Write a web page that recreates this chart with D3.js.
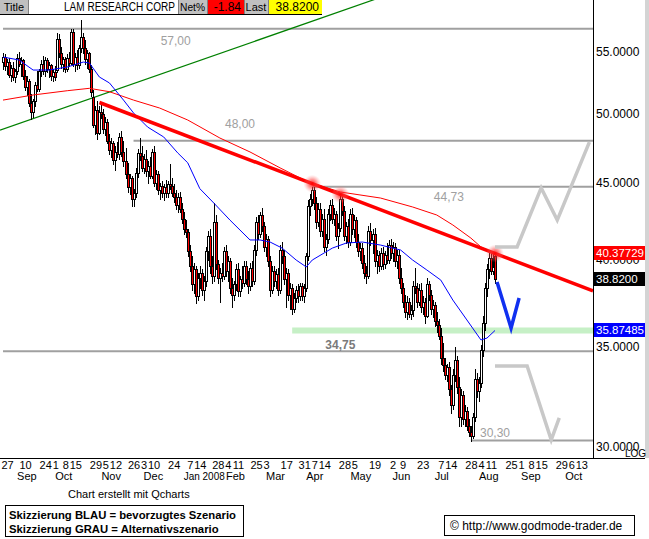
<!DOCTYPE html>
<html><head><meta charset="utf-8">
<script src="https://cdn.jsdelivr.net/npm/d3@7"></script>
<style>body{margin:0;background:#fff}svg{display:block;font-family:"Liberation Sans",Arial,sans-serif}</style>
</head><body><svg id="c" width="649" height="539"></svg>
<script>
// ---------- DATA ----------
const firstDate = "2007-08-23";
const holidays = ["2007-09-03","2007-11-22","2007-12-25","2008-01-01","2008-01-21","2008-02-18","2008-03-21","2008-05-26","2008-07-04"];
const opens = [54.2,54.6,53.8,54.2,53.1,53.7,52.9,53.4,54.5,54.0,54.3,53.0,52.1,52.6,50.9,50.2,51.0,52.3,52.0,53.4,54.0,53.4,54.3,53.6,53.9,53.0,53.3,53.5,56.1,54.9,54.0,54.4,53.6,54.5,54.1,56.7,54.0,54.6,53.9,55.3,56.3,55.3,54.4,54.9,53.6,51.3,49.2,50.3,48.6,50.2,50.0,48.9,49.4,48.0,47.3,47.8,46.6,47.2,47.0,48.3,47.2,46.5,45.6,44.7,45.3,43.9,44.3,45.7,47.1,46.9,46.0,46.7,45.8,46.2,45.5,47.2,45.0,45.6,44.5,44.8,44.3,44.7,44.3,44.9,44.8,44.3,44.0,43.5,44.0,43.2,42.6,41.9,41.7,40.5,39.6,38.5,39.4,37.8,38.9,39.2,38.2,38.7,40.5,41.5,39.6,39.0,42.4,39.7,38.9,39.2,39.0,40.5,39.3,39.9,38.3,37.9,38.5,39.4,38.1,38.8,38.6,39.6,38.8,38.4,39.5,38.7,40.6,42.4,41.6,42.8,42.1,40.8,41.3,39.9,38.2,39.3,38.7,39.1,38.2,40.6,40.2,38.8,39.2,37.9,38.3,37.1,37.7,38.2,37.8,38.4,37.8,38.3,40.2,43.4,43.9,44.5,43.6,42.4,43.2,41.8,42.6,40.8,41.3,42.9,43.5,42.6,42.9,41.5,42.0,43.9,43.1,41.5,42.1,41.1,42.9,41.9,42.5,41.1,40.5,40.7,39.8,39.2,39.0,41.8,41.2,41.6,39.9,40.3,39.6,40.4,39.7,40.3,40.0,40.9,40.4,40.8,39.9,40.3,38.9,38.3,37.5,36.9,37.5,36.8,37.0,38.4,38.3,37.5,38.2,37.2,37.5,36.7,38.5,37.9,37.1,37.3,36.4,36.2,35.6,34.4,34.0,33.5,33.9,32.8,32.0,33.5,34.3,32.9,31.4,32.5,31.3,31.7,31.0,30.7,30.5,31.4,33.3,32.7,33.1,34.8,36.3,38.3,39.4,40.1,39.3,40.2];
const highs = [54.9,54.8,54.4,54.5,53.9,54.2,53.6,54.8,55.0,54.6,54.4,53.5,53.0,52.8,51.6,51.2,52.5,53.4,53.6,54.3,54.7,54.6,54.5,54.2,54.0,53.6,53.8,56.6,56.5,55.4,54.6,54.6,54.8,55.0,57.0,57.0,54.9,55.2,55.6,57.8,56.6,56.0,55.2,55.0,53.9,51.9,50.6,51.0,50.6,50.7,50.4,49.8,49.6,48.5,48.2,48.0,47.6,47.9,48.6,48.7,48.0,47.5,46.4,45.6,45.5,44.6,46.0,47.4,48.2,47.6,47.0,47.3,46.5,46.8,47.4,47.6,45.9,45.8,45.0,45.1,44.9,45.2,45.1,46.3,45.3,44.9,44.5,44.3,44.4,43.6,43.0,42.5,41.9,40.9,40.2,39.8,39.6,39.2,39.6,39.4,39.0,40.8,41.8,41.9,40.2,43.6,42.8,40.0,39.5,39.8,40.8,40.9,40.2,40.1,38.9,38.7,39.7,39.8,39.0,39.6,39.9,39.9,39.3,39.8,39.9,40.9,42.7,42.8,43.0,43.3,42.4,41.6,41.5,40.2,39.6,39.6,39.4,39.5,40.9,41.1,40.6,39.5,39.4,38.6,38.5,38.0,38.4,38.5,38.6,38.6,38.5,40.4,43.8,44.2,44.73,44.7,44.0,43.6,43.6,42.9,43.2,41.6,43.2,43.8,43.9,43.3,43.1,42.3,44.2,44.1,43.4,42.4,42.6,43.2,43.3,42.8,42.7,41.6,41.0,41.0,40.3,39.6,42.1,42.3,41.9,42.0,40.6,40.5,40.7,40.8,40.5,41.0,41.2,41.3,41.1,41.0,40.6,40.6,39.5,38.6,37.9,37.8,37.7,37.3,38.7,39.5,38.6,38.5,38.6,37.8,37.7,38.9,38.7,38.2,37.6,37.5,36.9,36.5,36.0,35.2,34.4,34.1,34.2,33.0,33.8,35.0,34.5,33.4,32.8,32.7,32.0,31.9,31.3,31.0,31.6,33.8,33.6,33.4,35.1,36.7,38.6,39.7,40.4,40.5,40.4,40.38];
const lows = [53.6,53.5,53.2,52.9,52.6,52.7,52.5,53.2,53.8,53.0,52.8,51.9,51.5,50.6,49.6,49.8,50.6,51.8,51.8,53.0,53.2,53.0,53.3,52.9,52.7,52.6,52.7,53.3,54.6,53.7,53.4,53.3,53.4,53.8,54.0,53.8,53.4,53.6,53.7,55.0,54.9,54.0,53.7,53.3,51.4,49.0,48.5,48.1,48.5,49.7,48.6,48.4,47.8,47.0,46.8,46.3,45.9,46.8,46.7,46.9,46.2,45.3,44.4,44.2,43.4,43.4,44.0,45.4,46.6,45.8,45.7,45.5,45.0,45.3,45.3,44.8,44.6,44.2,43.9,44.0,43.8,44.0,44.0,44.6,44.1,43.7,43.2,43.0,43.0,42.3,41.6,41.4,40.2,39.3,38.2,38.0,37.4,37.6,38.3,37.9,37.6,38.4,40.0,39.2,38.6,38.7,39.4,38.6,37.5,38.7,38.8,39.0,38.7,38.0,37.2,37.6,38.2,37.8,37.8,38.3,38.4,38.5,38.0,38.2,38.4,38.5,40.3,41.3,41.4,41.8,40.5,40.2,39.6,37.8,38.0,38.4,38.3,37.9,38.0,39.8,38.5,37.2,37.6,37.1,36.8,36.9,37.5,37.5,37.6,37.6,37.5,38.1,40.0,42.8,43.5,43.2,42.0,42.1,41.5,41.5,40.5,40.3,41.0,42.5,42.3,42.2,41.2,40.7,41.8,42.8,41.2,41.0,40.8,40.9,41.6,41.4,40.8,40.2,40.0,39.5,38.9,38.6,38.9,40.9,40.4,39.6,39.2,39.3,39.4,39.4,39.5,39.8,39.8,40.1,39.9,39.6,39.5,38.6,38.0,37.2,36.6,36.5,36.6,36.5,36.7,38.0,37.2,37.3,36.9,36.8,36.3,36.6,37.6,36.8,36.6,36.1,35.8,35.4,34.1,33.7,33.3,33.2,32.5,31.6,31.8,33.2,32.6,31.0,31.0,31.1,31.0,30.8,30.5,30.3,30.4,31.2,32.4,32.2,32.9,34.5,35.9,37.8,38.9,39.1,39.1,38.6];
const closes = [54.6,53.8,54.2,53.1,53.7,52.9,53.4,54.5,54.0,54.3,53.0,52.1,52.6,50.9,50.2,51.0,52.3,52.0,53.4,54.0,53.4,54.3,53.6,53.9,53.0,53.3,52.9,56.1,54.9,54.0,54.4,53.6,54.5,54.1,56.7,54.0,54.6,53.9,55.3,56.3,55.3,54.4,54.9,53.6,51.7,49.2,50.3,48.6,50.2,50.0,48.9,49.4,48.0,47.3,47.8,46.6,47.2,47.0,48.3,47.2,46.5,45.6,44.7,45.3,43.9,44.3,45.7,47.1,46.9,46.0,46.7,45.8,46.2,45.5,47.2,45.0,45.6,44.5,44.8,44.3,44.7,44.3,44.9,44.8,44.3,44.0,43.5,44.0,43.2,42.6,41.9,41.7,40.5,39.6,38.5,39.4,37.8,38.9,39.2,38.2,38.7,40.5,41.5,39.6,39.0,42.4,39.7,38.9,39.2,39.0,40.5,39.3,39.9,38.3,37.9,38.5,39.4,38.1,38.8,38.6,39.6,38.8,38.4,39.5,38.7,40.6,42.4,41.6,42.8,42.1,40.8,41.3,39.9,38.2,39.3,38.7,39.1,38.2,40.6,40.2,38.8,39.2,37.9,38.3,37.1,37.7,38.2,37.8,38.4,37.8,38.3,40.2,43.4,43.9,44.5,43.6,42.4,43.2,41.8,42.6,40.8,41.3,42.9,43.5,42.6,42.9,41.5,42.0,43.9,43.1,41.5,42.1,41.1,42.9,41.9,42.5,41.1,40.5,40.7,39.8,39.2,39.0,41.8,41.2,41.6,39.9,40.3,39.6,40.4,39.7,40.3,40.0,40.9,40.4,40.8,39.9,40.3,38.9,38.3,37.5,36.9,37.5,36.8,37.0,38.4,38.3,37.5,38.2,37.2,37.5,36.7,38.5,37.9,37.1,37.3,36.4,36.2,35.6,34.4,34.0,33.5,33.9,32.8,32.0,33.5,34.3,32.9,31.4,32.5,31.3,31.7,31.0,30.7,30.5,31.4,33.3,32.7,33.1,34.8,36.3,38.3,39.4,40.1,39.3,39.55,38.82];

const blueMA = [["2007-08-23",54.58],["2007-09-05",54.33],["2007-09-14",53.5],["2007-09-26",53.5],["2007-10-09",53.75],["2007-10-19",54.16],["2007-10-24",54.08],["2007-10-31",52.93],["2007-11-07",52.45],["2007-11-16",51.09],["2007-11-26",50.09],["2007-12-05",49.02],["2007-12-17",48.28],["2007-12-27",47.11],["2008-01-04",46.4],["2008-01-14",44.6],["2008-01-24",43.62],["2008-02-05",42.5],["2008-02-20",41.22],["2008-02-27",41.22],["2008-03-05",41.09],["2008-03-13",40.71],["2008-03-25",39.97],["2008-04-01",39.55],["2008-04-04",39.97],["2008-04-18",40.71],["2008-04-29",41.03],["2008-05-09",41.09],["2008-05-22",40.9],["2008-06-06",40.59],["2008-06-16",39.97],["2008-06-25",39.37],["2008-07-07",38.76],["2008-07-15",37.59],["2008-07-24",36.46],["2008-08-04",35.36],["2008-08-07",35.46],["2008-08-13",35.87485]];
const redMA = [["2007-08-23",51.09],["2007-09-14",51.49],["2007-10-09",51.83],["2007-10-24",52.02],["2007-11-07",51.75],["2007-11-26",51.09],["2007-12-13",50.47],["2008-01-04",49.55],["2008-01-29",48.2],["2008-02-20",47.18],["2008-03-12",46.04],["2008-04-02",45.05],["2008-04-24",44.37],["2008-05-22",43.96],["2008-06-16",43.36],["2008-07-02",42.83],["2008-07-15",42.18],["2008-07-28",41.34],["2008-08-04",40.78],["2008-08-11",40.46],["2008-08-13",40.38]];
const redTrend = [["2007-10-31",50.9],["2008-08-13",40.37729]];
const greenTrend = [["2007-08-23",48.87],["2008-04-01",57.48]];
const glowDates = ["2008-04-04","2008-04-24","2008-08-13"];
const levelValues = [57.00,48.00,44.73,34.75,30.30];
const levelStarts = ["2007-08-23","2007-11-26","2008-04-04","2007-08-23","2008-07-28"];
const levelLabels = ["57,00","48,00","44,73","34,75","30,30"];
const levelLabelDates = ["2007-12-26","2008-02-12","2008-07-11","2008-04-24","2008-08-13"];
const supportBand = [["2008-03-20",35.87485]];
const blueScenario = [["2008-08-14",38.64],["2008-08-25",36.01],["2008-08-29",37.71]];
const grayUp = [["2008-08-13",40.78],["2008-08-28",40.78],["2008-09-15",44.65],["2008-09-25",42.5],["2008-10-17",47.9]];
const grayDown = [["2008-08-13",33.97],["2008-09-04",33.97],["2008-09-22",30.33],["2008-09-26",31.37]];
const priceTicks = [55,50,45,40,35,30];
const tickDates = ["2007-08-27","2007-09-10","2007-09-24","2007-10-01","2007-10-08","2007-10-15","2007-10-29","2007-11-05","2007-11-12","2007-11-26","2007-12-03","2007-12-10","2007-12-24","2008-01-07","2008-01-14","2008-01-28","2008-02-04","2008-02-11","2008-02-25","2008-03-03","2008-03-17","2008-03-31","2008-04-07","2008-04-14","2008-04-28","2008-05-05","2008-05-19","2008-06-02","2008-06-09","2008-06-23","2008-07-07","2008-07-14","2008-07-28","2008-08-04","2008-08-11","2008-08-25","2008-09-01","2008-09-08","2008-09-15","2008-09-29","2008-10-06","2008-10-13"];
const tickLabels = ["27","10","24","1","8","15","29","5","12","26","3","10","24","7","14","28","4","11","25","3","17","31","7","14","28","5","19","2","9","23","7","14","28","4","11","25","1","8","15","29","6","13"];
const monthDates = ["2007-09-04","2007-10-01","2007-11-01","2007-12-03","2008-01-02","2008-02-01","2008-03-03","2008-04-01","2008-05-01","2008-06-02","2008-07-01","2008-08-01","2008-09-01","2008-10-01"];
const monthLabels = ["Sep","Oct","Nov","Dec","Jan 2008","Feb","Mar","Apr","May","Jun","Jul","Aug","Sep","Oct"];
const markers = [{v:40.37729,label:"40.37729",fill:"#ff0000"},{v:38.82,label:"38.8200",fill:"#000000"},{v:35.87485,label:"35.87485",fill:"#0000ff"}];
const headerCells = [["Title","#c0c0c0"],["LAM RESEARCH CORP","#ffffff"],["Net%","#c0c0c0"],["-1.84","#ff0000"],["Last","#c0c0c0"],["38.8200","#ffff00"]];

// ---------- CALENDAR ----------
const cal = [];
{ const p = firstDate.split("-").map(Number); const d = new Date(Date.UTC(p[0],p[1]-1,p[2]));
  while (cal.length < 300) { const wd = d.getUTCDay(); const s = d.toISOString().slice(0,10);
    if (wd !== 0 && wd !== 6 && !holidays.includes(s)) cal.push(s); d.setUTCDate(d.getUTCDate()+1); } }
const idx = new Map(cal.map((s,i)=>[s,i]));
const I = s => idx.get(s);

// ---------- SCALES ----------
const W = 593, H = 458;
const x = d3.scaleLinear().domain([-1.5, 293.8]).range([0, W]);
const y = d3.scaleLog().domain([29.50, 59.57]).range([H, 0]);

const svg = d3.select("#c");
svg.append("defs").append("clipPath").attr("id","clip").append("rect").attr("width",W).attr("height",H);
const rg = svg.select("defs").append("radialGradient").attr("id","glow");
rg.append("stop").attr("offset","0%").attr("stop-color","#ff0000").attr("stop-opacity",0.9);
rg.append("stop").attr("offset","50%").attr("stop-color","#ff4040").attr("stop-opacity",0.5);
rg.append("stop").attr("offset","100%").attr("stop-color","#ff9090").attr("stop-opacity",0);

const plot = svg.append("g").attr("clip-path","url(#clip)");
const line = d3.line().x(d=>x(I(d[0]))).y(d=>y(d[1]));

levelValues.forEach((v,k)=>{
  plot.append("line").attr("x1",x(I(levelStarts[k]))).attr("x2",W).attr("y1",y(v)).attr("y2",y(v))
    .attr("stroke","#a0a0a0").attr("stroke-width",2);
});
plot.append("line").attr("x1",x(I(supportBand[0][0]))).attr("x2",W).attr("y1",y(supportBand[0][1])).attr("y2",y(supportBand[0][1]))
  .attr("stroke","#c6f0c6").attr("stroke-width",6);
const labOff = [12,-17,10,-6,-8];
levelLabels.forEach((t,k)=>{
  plot.append("text").attr("x",x(I(levelLabelDates[k]))).attr("y",y(levelValues[k])+labOff[k]).attr("dy","0.35em")
    .attr("text-anchor","middle").attr("font-size",12)
    .attr("fill",k===3?"#7a7a7a":"#a0a0a0").attr("font-weight",k===3?"bold":"normal").text(t);
});

function extend(a, b, from, to){
  const i1=I(a[0]), i2=I(b[0]), l1=Math.log(a[1]), l2=Math.log(b[1]);
  const f=t=>Math.exp(l1+(l2-l1)*(t-i1)/(i2-i1));
  return [[from,f(from)],[to,f(to)]];
}
const g1 = extend(greenTrend[0],greenTrend[1],-1.5,293.8);
plot.append("line").attr("x1",x(g1[0][0])).attr("y1",y(g1[0][1])).attr("x2",x(g1[1][0])).attr("y2",y(g1[1][1]))
  .attr("stroke","#008000").attr("stroke-width",1.2);

const cg = plot.append("g").attr("shape-rendering","crispEdges");
closes.forEach((c,i)=>{
  const o=opens[i], cx=Math.round(x(i))+0.5;
  cg.append("line").attr("x1",cx).attr("x2",cx).attr("y1",Math.round(y(highs[i]))).attr("y2",Math.round(y(lows[i]))+1).attr("stroke","#000");
  const top=Math.round(y(Math.max(o,c))), bot=Math.round(y(Math.min(o,c)));
  cg.append("rect").attr("x",cx-1).attr("y",top+0.5).attr("width",2).attr("height",Math.max(1,bot-top))
    .attr("fill",c<o?"#ff0000":"#ffffff").attr("stroke","#000").attr("stroke-width",1);
});

plot.append("path").datum(redMA).attr("d",line).attr("fill","none").attr("stroke","#ff0000").attr("stroke-width",1);
plot.append("path").datum(blueMA).attr("d",line).attr("fill","none").attr("stroke","#0000ff").attr("stroke-width",1);

const r1 = extend(redTrend[0],redTrend[1],I(redTrend[0][0]),293.8);
plot.append("line").attr("x1",x(r1[0][0])).attr("y1",y(r1[0][1])).attr("x2",x(r1[1][0])).attr("y2",y(r1[1][1]))
  .attr("stroke","#ff0000").attr("stroke-width",3.5);
glowDates.forEach(s=>{
  const t=I(s); const i1=I(redTrend[0][0]), i2=I(redTrend[1][0]);
  const v=Math.exp(Math.log(redTrend[0][1])+(Math.log(redTrend[1][1])-Math.log(redTrend[0][1]))*(t-i1)/(i2-i1));
  plot.append("circle").attr("cx",x(t)).attr("cy",y(v)).attr("r",9).attr("fill","url(#glow)");
});

plot.append("path").datum(grayUp).attr("d",line).attr("fill","none").attr("stroke","#c8c8c8").attr("stroke-width",3.5);
plot.append("path").datum(grayDown).attr("d",line).attr("fill","none").attr("stroke","#c8c8c8").attr("stroke-width",3.5);
plot.append("path").datum(blueScenario).attr("d",line).attr("fill","none").attr("stroke","#1030f0").attr("stroke-width",3.5);

svg.append("rect").attr("x",645).attr("y",0).attr("width",4).attr("height",H).attr("fill","#d4d4d4");
svg.append("line").attr("x1",W+0.5).attr("x2",W+0.5).attr("y1",0).attr("y2",H+1).attr("stroke","#000");
svg.append("line").attr("x1",0).attr("x2",645).attr("y1",H+0.5).attr("y2",H+0.5).attr("stroke","#000");

const ra = svg.append("g").attr("transform",`translate(${W},0)`)
  .call(d3.axisRight(y).tickValues(priceTicks).tickFormat(d=>d.toFixed(4)).tickSize(0).tickPadding(3));
ra.select(".domain").remove();
ra.selectAll("text").attr("font-size",12).attr("font-family","Liberation Sans, Arial, sans-serif").attr("fill","#000");
markers.forEach(m=>{
  const yy=Math.round(y(m.v));
  svg.append("rect").attr("x",W+1).attr("y",yy-7).attr("width",51).attr("height",14).attr("fill",m.fill);
  svg.append("text").attr("x",W+3).attr("y",yy).attr("dy","0.35em").attr("font-size",11.5).attr("fill","#fff").text(m.label);
});
svg.append("text").attr("x",625).attr("y",H-1).attr("font-size",10).attr("fill","#000").text("LOG");

const ba = svg.append("g").attr("transform",`translate(0,${H})`)
  .call(d3.axisBottom(x).tickValues(tickDates.map(I)).tickFormat((d,i)=>tickLabels[i]).tickSize(0).tickPadding(3));
ba.select(".domain").remove();
ba.selectAll("text").attr("font-size",11).attr("font-family","Liberation Sans, Arial, sans-serif").attr("fill","#000");
monthLabels.forEach((t,k)=>{
  const tx = svg.append("text").attr("x",x(I(monthDates[k]))).attr("y",480).attr("font-size",11).attr("fill","#000").text(t);
  if (t.length > 4) tx.attr("textLength",41).attr("lengthAdjust","spacingAndGlyphs");
});

const hx = [0,28,178,207,244,268,322];
headerCells.forEach((c,k)=>{
  svg.append("rect").attr("x",hx[k]).attr("y",0).attr("width",hx[k+1]-hx[k]).attr("height",14).attr("fill",c[1]);
  const center = (k===0||k===2||k===4);
  const tx = svg.append("text").attr("x",center?(hx[k]+hx[k+1])/2:hx[k+1]-3).attr("y",11).attr("text-anchor",center?"middle":"end")
    .attr("font-size",center?11:12).attr("fill","#000").text(c[0]);
  if (k===1) tx.attr("textLength",111).attr("lengthAdjust","spacingAndGlyphs");
  if (k===2) tx.attr("textLength",25).attr("lengthAdjust","spacingAndGlyphs");
  if(k>0) svg.append("line").attr("x1",hx[k]+0.5).attr("x2",hx[k]+0.5).attr("y1",0).attr("y2",14).attr("stroke","#808080");
});
svg.append("line").attr("x1",0).attr("x2",322).attr("y1",14.5).attr("y2",14.5).attr("stroke","#000");

svg.append("text").attr("x",68).attr("y",498).attr("font-size",11).attr("fill","#000").text("Chart erstellt mit Qcharts");
svg.append("rect").attr("x",5.5).attr("y",505.5).attr("width",238).attr("height",31).attr("fill","#fff").attr("stroke","#000");
svg.append("text").attr("x",9).attr("y",519).attr("font-size",11.3).attr("font-weight","bold").text("Skizzierung BLAU = bevorzugtes Szenario");
svg.append("text").attr("x",9).attr("y",533).attr("font-size",11.3).attr("font-weight","bold").text("Skizzierung GRAU = Alternativszenario");
svg.append("rect").attr("x",444.5).attr("y",515.5).attr("width",190).attr("height",20).attr("fill","#fff").attr("stroke","#000");
svg.append("text").attr("x",450).attr("y",530).attr("font-size",12).text("© http://www.godmode-trader.de");
</script></body></html>
